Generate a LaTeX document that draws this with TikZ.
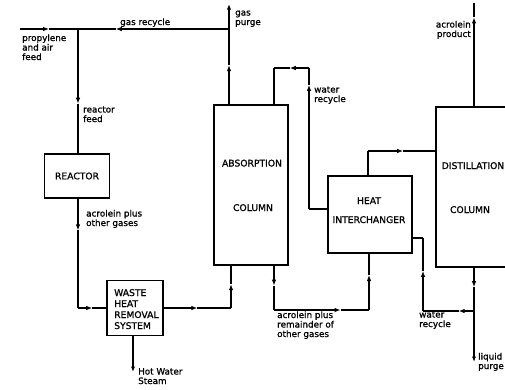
\documentclass[tikz,border=0pt]{standalone}
\usepackage{fontspec}
\setmainfont{DejaVu Sans}[FakeBold=1.1]
\usetikzlibrary{arrows.meta,calc}
\newcommand\labsz{\fontsize{8.8}{9.5}\selectfont}
\newcommand\capsz{\fontsize{9.2}{11}\selectfont}
% segment from #1 to #2 with an arrowhead at fraction #3
\newcommand\flowarr[3]{%
  \draw[flow,-{Latex[length=6pt,width=4.6pt]}] (#1) -- ($(#1)!#3!(#2)$);
  \draw[flow] ($(#1)!#3!(#2)$) -- (#2);}
\begin{document}
\begin{tikzpicture}[x=1pt,y=-1pt,
  flow/.style={line width=1.1pt},
  endarr/.style={-{Latex[length=5.5pt,width=4.2pt]}},
  unitbox/.style={draw,line width=1.1pt,inner sep=0pt},
  lab/.style={font=\labsz,inner sep=0pt,align=left,anchor=base west},
  captxt/.style={font=\capsz,inner sep=0pt,anchor=base}]
\useasboundingbox (0,0) rectangle (505,389);
% units
\node[unitbox,minimum width=65pt,minimum height=44pt,font=\capsz] (reactor) at (77,176) {REACTOR};
\node[unitbox,minimum width=56pt,minimum height=55pt] (waste) at (135,308) {};
\node[captxt,align=left,anchor=base west] (wastetxt) at (114,329) {WASTE\\HEAT\\REMOVAL\\SYSTEM};
\node[unitbox,minimum width=74pt,minimum height=160pt] (absorb) at (251,185) {};
\node[captxt] (abs1) at (252,166.5) {ABSORPTION};
\node[captxt] (abs2) at (253,211) {COLUMN};
\node[unitbox,minimum width=84pt,minimum height=77pt] (hx) at (370,214.5) {};
\node[captxt] (hx1) at (369,204) {HEAT};
\node[captxt] (hx2) at (369,223) {INTERCHANGER};
\node[unitbox,minimum width=130pt,minimum height=160pt] (distil) at (501,187) {};
\node[captxt] (dis1) at (473,169) {DISTILLATION};
\node[captxt] (dis2) at (470,213) {COLUMN};
% coordinates
\coordinate (feed) at (20,29);
\coordinate (jr) at (78,29);
\coordinate (jp) at (229,29);
\coordinate (purge) at (229,4);
\coordinate (rb) at (78,308);
\coordinate (wa) at (231,308);
\coordinate (hw) at (133,372);
\coordinate (ab) at (274,310);
\coordinate (hb) at (369,310);
\coordinate (wr1) at (309,209);
\coordinate (wr2) at (309,68);
\coordinate (wr3) at (274,68);
\coordinate (hd1) at (368,151);
\coordinate (db) at (474,311);
\coordinate (wb) at (423,311);
\coordinate (wh) at (423,238);
\coordinate (lp) at (474,362);
\coordinate (ap) at (474,3);
% attachment points on the units
\coordinate (absGas) at (jp |- absorb.north);
\coordinate (rIn) at (jr |- reactor.north);
\coordinate (rOut) at (jr |- reactor.south);
\coordinate (wIn) at (rb -| waste.west);
\coordinate (wOut) at (rb -| waste.east);
\coordinate (absIn) at (wa |- absorb.south);
\coordinate (wHot) at (hw |- waste.south);
\coordinate (absOut) at (ab |- absorb.south);
\coordinate (hxIn) at (hb |- hx.south);
\coordinate (hxW) at (wr1 -| hx.west);
\coordinate (absW) at (wr3 |- absorb.north);
\coordinate (hxN) at (hd1 |- hx.north);
\coordinate (disIn) at (hd1 -| distil.west);
\coordinate (disBot) at (db |- distil.south);
\coordinate (hxE) at (wh -| hx.east);
\coordinate (disTop) at (ap |- distil.north);
% connectors
\flowarr{feed}{jr}{0.5}
\flowarr{jp}{jr}{0.75}
\flowarr{absGas}{jp}{0.52}
\draw[flow,endarr] (jp) -- (purge);
\flowarr{jr}{rIn}{0.6}
\flowarr{rOut}{rb}{0.29}
\flowarr{rb}{wIn}{0.5}
\flowarr{wOut}{wa}{0.5}
\flowarr{wa}{absIn}{0.56}
\draw[flow,endarr] (wHot) -- (hw);
\flowarr{absOut}{ab}{0.45}
\flowarr{ab}{hb}{0.7}
\flowarr{hb}{hxIn}{0.62}
\draw[flow] (hxW) -- (wr1);
\flowarr{wr1}{wr2}{0.88}
\flowarr{wr2}{wr3}{0.55}
\draw[flow] (wr3) -- (absW);
\draw[flow] (hxN) -- (hd1);
\flowarr{hd1}{disIn}{0.52}
\flowarr{disBot}{db}{0.45}
\draw[flow,endarr] (db) -- (lp);
\flowarr{db}{wb}{0.3}
\flowarr{wb}{wh}{0.55}
\draw[flow] (wh) -- (hxE);
\flowarr{disTop}{ap}{0.86}
% labels (anchored at the baseline of the last line)
\node[lab] (lgr) at (120,25) {gas recycle};
\node[lab] (lfeed) at (22,60) {propylene\\and air\\feed};
\node[lab] (lrf) at (83,122) {reactor\\feed};
\node[lab] (lgp) at (235,25) {gas\\purge};
\node[lab] (lwr) at (314,102) {water\\recycle};
\node[lab,align=right,anchor=base east] (lap) at (471,37) {acrolein\\product};
\node[lab] (lao) at (86,226) {acrolein plus\\other gases};
\node[lab] (lhw) at (138,384) {Hot Water\\Steam};
\node[lab] (lrem) at (277,337) {acrolein plus\\remainder of\\other gases};
\node[lab] (lwr2) at (419,327) {water\\recycle};
\node[lab] (llp) at (478,369) {liquid\\purge};
\end{tikzpicture}
\end{document}
